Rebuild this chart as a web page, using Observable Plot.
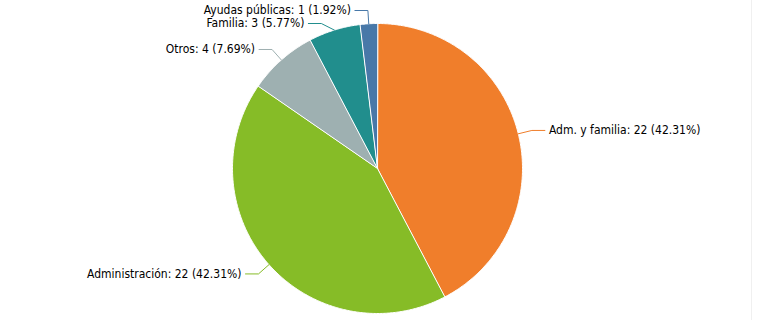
<!DOCTYPE html>
<html><head><meta charset="utf-8">
<script src="https://cdn.jsdelivr.net/npm/d3@7"></script>
<script src="https://cdn.jsdelivr.net/npm/@observablehq/plot@0.6"></script>
<style>
html,body{margin:0;padding:0;background:#fff;}
#chart{position:relative;width:780px;height:320px;overflow:hidden;}
#chart svg{display:block;max-width:none;}
#edge{position:absolute;left:751px;top:0;width:1px;height:320px;background:#f0f0f0;}
</style>
</head><body><div id="chart"><div id="edge"></div></div>
<script>
const categories = ["Adm. y familia", "Administración", "Otros", "Familia", "Ayudas públicas"];
const values = [22, 22, 4, 3, 1];
const colors = ["#f07e2b", "#86bc27", "#9eb0b1", "#218e8d", "#4878a8"];

const W = 780, H = 320, cx = 377, cy = 168, R = 145;
const total = d3.sum(values);
const arcs = d3.pie().sort(null).value(d => d)(values);
const pt = (a, r) => [cx + r * Math.sin(a), cy - r * Math.cos(a)];

// slice polygons
const slicePts = [];
arcs.forEach((a, i) => {
  const n = Math.max(2, Math.ceil((a.endAngle - a.startAngle) / 0.01));
  slicePts.push({k: categories[i], x: cx, y: cy});
  for (let j = 0; j <= n; j++) {
    const t = a.startAngle + (a.endAngle - a.startAngle) * j / n;
    const [x, y] = pt(t, R);
    slicePts.push({k: categories[i], x, y});
  }
});

// labels
const labels = arcs.map((a, i) => {
  const m = (a.startAngle + a.endAngle) / 2;
  const [x0, y0] = pt(m, R);
  const [x1, y1] = pt(m, R + 14);
  const right = Math.sin(m) >= 0;
  return {k: categories[i], x0, y0, x1, y1, right,
    text: `${categories[i]}: ${values[i]} (${(values[i] / total * 100).toFixed(2)}%)`};
});
// resolve overlaps per side
for (const side of [true, false]) {
  const g = labels.filter(l => l.right === side).sort((a, b) => a.y1 - b.y1);
  let prev = -Infinity;
  for (const l of g) {
    const ny = Math.max(l.y1, 10, prev + 13);
    const shift = ny - l.y1;
    if (shift > 3) l.x1 += (l.right ? 1 : -1) * shift * 1.3;
    l.y1 = ny;
    prev = ny;
  }
}
labels.forEach(l => { l.x2 = l.right ? l.x1 + 13 : l.x1 - 13; });
const leader = labels.flatMap(l => [
  {k: l.k, x: l.x0, y: l.y0},
  {k: l.k, x: l.x1, y: l.y1},
  {k: l.k, x: l.x2, y: l.y1}
]);

const chart = Plot.plot({
  width: W, height: H,
  margin: 0,
  style: {fontFamily: "'DejaVu Sans Condensed', 'DejaVu Sans'", fontSize: "12px", background: "transparent"},
  x: {domain: [0, W], range: [0, W], axis: null},
  y: {domain: [0, H], range: [0, H], axis: null},
  color: {domain: categories, range: colors},
  marks: [
    Plot.line(slicePts, {x: "x", y: "y", z: "k", fill: "k", stroke: "#fff", strokeWidth: 1, curve: "linear-closed"}),
    Plot.line(leader, {x: "x", y: "y", z: "k", stroke: "k", strokeWidth: 1}),
    Plot.text(labels.filter(l => l.right), {x: "x2", y: "y1", text: "text", textAnchor: "start", dx: 4, fill: "#000"}),
    Plot.text(labels.filter(l => !l.right), {x: "x2", y: "y1", text: "text", textAnchor: "end", dx: -4, fill: "#000"})
  ]
});
document.getElementById("chart").append(chart);
</script>
</body></html>
